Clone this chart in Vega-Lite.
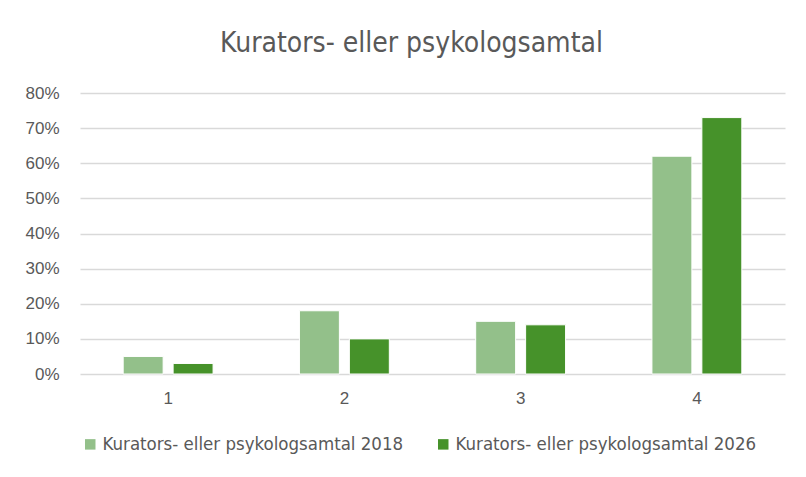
{
  "$schema": "https://vega.github.io/schema/vega-lite/v6.json",
  "autosize": {"type": "none"},
  "width": 705,
  "height": 281,
  "padding": {"left": 80, "top": 93, "right": 21, "bottom": 103},
  "background": "white",
  "title": {
    "text": "Kurators- eller psykologsamtal",
    "font": "DejaVu Sans Condensed",
    "fontSize": 28,
    "fontWeight": "normal",
    "color": "#595959",
    "anchor": "middle",
    "dx": -21,
    "offset": 26
  },
  "data": {
    "values": [
      {"grupp": "1", "serie": "Kurators- eller psykologsamtal 2018", "andel": 0.05},
      {"grupp": "1", "serie": "Kurators- eller psykologsamtal 2026", "andel": 0.03},
      {"grupp": "2", "serie": "Kurators- eller psykologsamtal 2018", "andel": 0.18},
      {"grupp": "2", "serie": "Kurators- eller psykologsamtal 2026", "andel": 0.10},
      {"grupp": "3", "serie": "Kurators- eller psykologsamtal 2018", "andel": 0.15},
      {"grupp": "3", "serie": "Kurators- eller psykologsamtal 2026", "andel": 0.14},
      {"grupp": "4", "serie": "Kurators- eller psykologsamtal 2018", "andel": 0.62},
      {"grupp": "4", "serie": "Kurators- eller psykologsamtal 2026", "andel": 0.73}
    ]
  },
  "mark": {"type": "bar", "stroke": "white", "strokeWidth": 1},
  "encoding": {
    "x": {
      "field": "grupp",
      "type": "nominal",
      "title": null,
      "scale": {"paddingInner": 0.49, "paddingOuter": 0.245},
      "axis": {
        "domain": false,
        "ticks": false,
        "labelAngle": 0,
        "labelPadding": 16,
        "labelFont": "Liberation Sans",
        "labelFontSize": 17,
        "labelColor": "#595959"
      }
    },
    "xOffset": {
      "field": "serie",
      "type": "nominal",
      "scale": {"paddingInner": 0.2, "paddingOuter": 0}
    },
    "y": {
      "field": "andel",
      "type": "quantitative",
      "title": null,
      "scale": {"domain": [0, 0.8]},
      "axis": {
        "format": ".0%",
        "values": [0, 0.1, 0.2, 0.3, 0.4, 0.5, 0.6, 0.7, 0.8],
        "domain": false,
        "ticks": false,
        "labelPadding": 21,
        "labelFont": "Liberation Sans",
        "labelFontSize": 17,
        "labelColor": "#595959",
        "gridColor": "#D9D9D9",
        "gridWidth": 1.5
      }
    },
    "color": {
      "field": "serie",
      "type": "nominal",
      "title": null,
      "scale": {"range": ["#93C08A", "#46922A"]},
      "legend": {
        "orient": "none",
        "legendX": 1,
        "legendY": 342,
        "direction": "horizontal",
        "symbolType": "square",
        "symbolSize": 110,
        "symbolStrokeWidth": 0,
        "labelFont": "DejaVu Sans Condensed",
        "labelFontSize": 18.5,
        "labelColor": "#595959",
        "labelLimit": 400,
        "columnPadding": 30,
        "labelOffset": 3
      }
    }
  },
  "config": {"view": {"stroke": null}}
}
